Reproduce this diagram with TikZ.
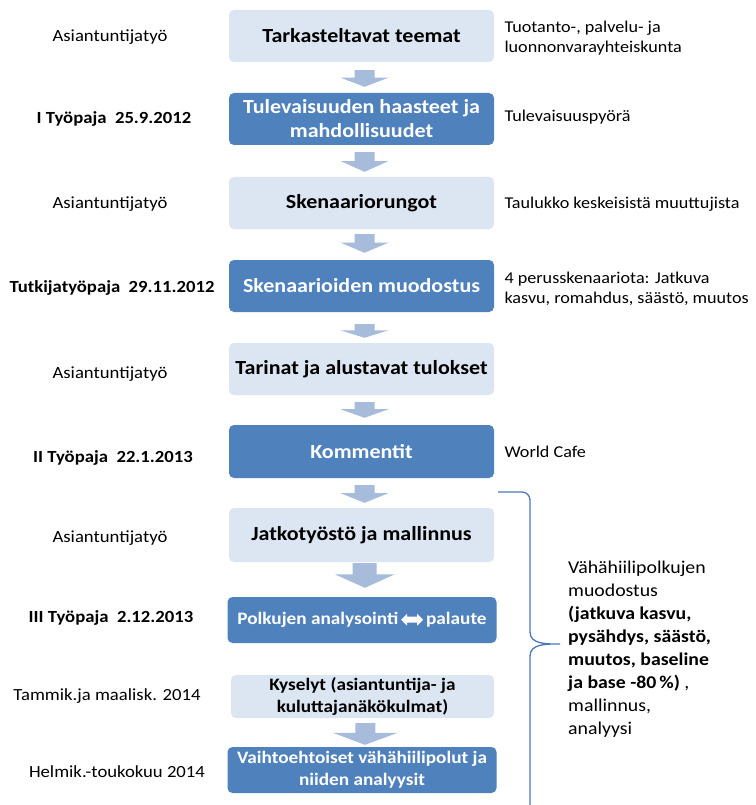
\documentclass[tikz,border=0pt]{standalone}
\usepackage{fontspec}
\setmainfont[FakeStretch=1.1]{Carlito}
\usetikzlibrary{calc}
\definecolor{lightbox}{HTML}{DCE6F2}
\definecolor{darkbox}{HTML}{4F81BD}
\definecolor{arrcol}{HTML}{A7BCDB}
\definecolor{bracecol}{HTML}{4A78B8}
\newcommand\blkarrow[6]{%
  \path ($(#1.south)+(3,#3)$) coordinate (ta) ($(#2.north)+(3,-#4)$) coordinate (tb)
        ($(ta)!0.45!(tb)$) coordinate (tm);
  \fill[arrcol] ($(ta)+(-#5,0)$) -- ($(ta)+(#5,0)$) -- ($(tm)+(#5,0)$) -- ($(tm)+(#6,0)$)
     -- (tb) -- ($(tm)+(-#6,0)$) -- ($(tm)+(-#5,0)$) -- cycle;}
\begin{document}
\begin{tikzpicture}[x=1pt,y=-1pt,
  base/.style={rounded corners=5pt, minimum width=265pt, align=center, inner sep=2pt, font=\bfseries\fontsize{20}{24}\selectfont},
  lbox/.style={base, fill=lightbox, text=black},
  dbox/.style={base, fill=darkbox, text=white},
  small/.style={font=\bfseries\fontsize{17.5}{22}\selectfont},
  lefttxt/.style={font=\fontsize{17}{20}\selectfont, anchor=center},
  leftbold/.style={font=\bfseries\fontsize{17}{20}\selectfont, anchor=center},
  righttxt/.style={font=\fontsize{16.5}{20}\selectfont, anchor=west, align=left}]
\useasboundingbox (0,0) rectangle (755,805);
\fill[white] (0,0) rectangle (755,805);

% boxes
\node[lbox, minimum height=52pt] (b1) at (361.5,36) {Tarkasteltavat teemat};
\node[dbox, minimum height=52pt] (b2) at (361.5,119) {Tulevaisuuden haasteet ja\\mahdollisuudet};
\node[lbox, minimum height=52pt] (b3) at (361.5,203) {Skenaariorungot};
\node[dbox, minimum height=52pt] (b4) at (361.5,286) {Skenaarioiden muodostus};
\node[lbox, minimum height=52pt] (b5) at (361.5,369) {Tarinat ja alustavat tulokset};
\node[dbox, minimum height=53pt] (b6) at (361.5,451.5) {Kommentit};
\node[lbox, minimum height=54pt] (b7) at (361.5,535) {Jatkotyöstö ja mallinnus};
\node[dbox, small, minimum height=46pt, minimum width=269pt] (b8) at (362,620)
  {Polkujen analysointi\,\tikz[baseline={(0pt,-5pt)},x=1pt,y=1pt,sharp corners]{\fill[white,sharp corners] (0,0) -- (6,6) -- (6,3) -- (16,3) -- (16,6) -- (22,0) -- (16,-6) -- (16,-3) -- (6,-3) -- (6,-6) -- cycle;}\,palaute};
\node[lbox, small, minimum height=43pt, minimum width=263pt] (b9) at (362.5,696.5) {Kyselyt (asiantuntija- ja\\kuluttajanäkökulmat)};
\node[dbox, small, minimum height=46pt, minimum width=269pt] (b10) at (362,770) {Vaihtoehtoiset vähähiilipolut ja\\niiden analyysit};

% arrows
\blkarrow{b1}{b2}{8}{6}{10}{24}
\blkarrow{b2}{b3}{7}{5}{10}{24}
\blkarrow{b3}{b4}{5}{7}{10}{24}
\blkarrow{b4}{b5}{12}{5}{10}{24}
\blkarrow{b5}{b6}{7}{7}{10}{24}
\blkarrow{b6}{b7}{7}{5}{10}{24}
\blkarrow{b7}{b8}{1}{9}{12}{30}
\blkarrow{b9}{b10}{5}{2}{10}{32}

% left labels
\node[lefttxt] (l1) at (110,37) {Asiantuntijatyö};
\node[leftbold] (l2) at (114,119) {I Työpaja\ \ 25.9.2012};
\node[lefttxt] (l3) at (110,204) {Asiantuntijatyö};
\node[leftbold] (l4) at (112,288) {Tutkijatyöpaja\ \ 29.11.2012};
\node[lefttxt] (l5) at (110,374) {Asiantuntijatyö};
\node[leftbold] (l6) at (113,458) {II Työpaja\ \ 22.1.2013};
\node[lefttxt] (l7) at (110,538) {Asiantuntijatyö};
\node[leftbold] (l8) at (111,618) {III Työpaja\ \ 2.12.2013};
\node[lefttxt] (l9) at (107,696) {Tammik.ja maalisk. 2014};
\node[lefttxt] (l10) at (117,772) {Helmik.-toukokuu 2014};

% right labels
\node[righttxt] (r1) at (501,38) {Tuotanto-, palvelu- ja\\luonnonvarayhteiskunta};
\node[righttxt] (r2) at (501,117) {Tulevaisuuspyörä};
\node[righttxt] (r3) at (501,204) {Taulukko keskeisistä muuttujista};
\node[righttxt] (r4) at (501,289) {4 perusskenaariota: Jatkuva\\kasvu, romahdus, säästö, muutos};
\node[righttxt] (r6) at (501,452) {World Cafe};

% brace
\coordinate (bt) at (498,492);
\coordinate (btip) at (560,644);
\draw[bracecol, line width=1.3pt]
  (bt) -- (522,492) to[out=0,in=90] (530,500) -- (530,632)
  to[out=270,in=180] (btip) to[out=180,in=90] (530,656) -- (530,810);

% brace text
\node[anchor=north west, align=left, inner sep=0pt, font=\fontsize{18}{23}\selectfont] (rt) at (568,561)
  {Vähähiilipolkujen\\muodostus\\\textbf{(jatkuva kasvu,}\\\textbf{pysähdys, säästö,}\\\textbf{muutos, baseline}\\\textbf{ja base -80\,\%)} ,\\mallinnus,\\analyysi};
\end{tikzpicture}
\end{document}
